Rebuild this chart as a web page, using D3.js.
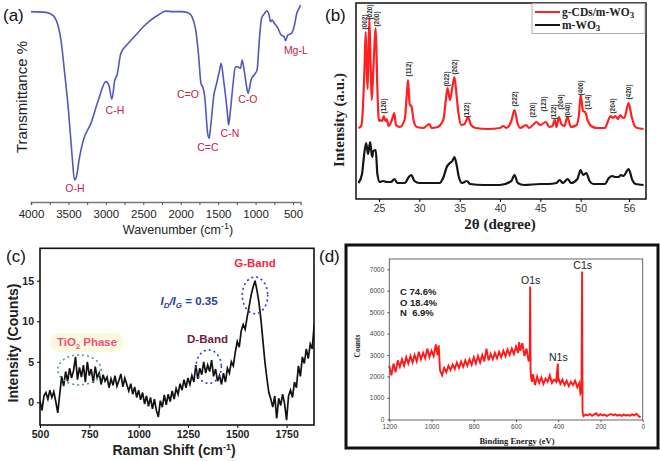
<!DOCTYPE html>
<html><head><meta charset="utf-8">
<script src="https://cdn.jsdelivr.net/npm/d3@7"></script>
<style>body{margin:0;background:#fff} svg{display:block}</style>
</head><body>
<svg id="chart" width="660" height="461"></svg>
<script>
// ---------- Panel (a) FTIR ----------
const ftirWavenumber = [4000,3800,3700,3600,3550,3500,3450,3420,3400,3350,3300,3200,3100,3000,2960,2920,2880,2850,2800,2700,2600,2500,2400,2300,2200,2100,2000,1900,1850,1800,1760,1730,1700,1680,1640,1620,1600,1560,1520,1480,1460,1430,1400,1380,1360,1340,1300,1270,1240,1200,1180,1150,1120,1100,1060,1020,980,950,920,880,850,820,800,780,750,700,660,620,600,570,520,480,450,420,400];
const ftirTransmittance = [99.1,98.7,96.7,83.3,64.8,44.4,18.5,5.6,6.5,18.5,27.8,37.0,50.0,60.2,58.3,50.4,61.1,63.9,75.9,81.5,86.1,90.7,94.4,97.2,99.4,99.1,99.1,98.5,96.3,88.9,74.1,59.3,56.5,51.9,31.5,28.7,35.2,51.9,59.3,66.7,70.4,62.0,51.9,44.4,36.1,42.6,59.3,68.5,68.5,67.6,72.2,65.7,57.4,53.7,61.1,63.9,66.7,83.3,95.4,98.1,99.6,97.2,93.5,94.4,92.6,89.8,86.1,85.2,82.9,86.1,87.0,91.7,98.1,100.9,102.8];
const ftirTickValues = [4000,3500,3000,2500,2000,1500,1000,500];
const ftirBandLabels = ["O-H","C-H","C=O","C=C","C-N","C-O","Mg-L"];
const ftirBandWavenumber = [3413,2879,1904,1637,1343,1103,462];
const ftirBandLevel = [1.1,44.4,53.3,23.9,31.7,50.6,77.8];

// ---------- Panel (b) XRD ----------
const xrdThetaRed = [22.45,22.8,23.0,23.2,23.35,23.5,23.6,23.8,23.95,24.1,24.3,24.6,24.8,25.0,25.1,25.4,25.6,25.8,25.95,26.2,26.6,26.9,27.1,27.6,28.2,28.45,28.6,28.8,29.05,29.3,29.7,30.5,31.25,31.5,32.3,32.6,33.0,33.3,33.5,33.8,34.1,34.35,34.6,34.85,35.2,35.6,36.05,36.4,37.0,38.5,40.0,40.4,40.8,41.4,41.8,42.2,42.5,43.25,43.6,44.2,44.5,45.0,45.7,46.1,46.5,46.8,47.0,47.3,47.6,48.0,48.35,48.8,49.5,49.8,50.0,50.3,50.55,50.9,51.3,52.0,53.0,53.4,53.7,54.0,54.3,54.6,54.9,55.1,55.4,55.95,56.3,56.7,57.0,57.8];
const xrdRed = [71,73,90,130,167,125,110,181,140,99,130,171,110,78,79,78,83,78,80,73,79,86,74,72,80,105,119,95,92,78,72,71,75,71,72,74,80,100,111,99,112,122,105,86,74,75,82,74,71,70,71,73,71,78,89,75,71,74,71,75,77,74,77,72,73,79,72,82,75,73,82,72,74,85,104,88,87,78,73,71,71,78,83,81,83,80,84,82,81,96,83,73,71,70];
const xrdThetaBlack = [22.45,22.9,23.1,23.4,23.65,23.9,24.15,24.3,24.6,24.8,25.1,25.5,26.0,26.5,26.9,27.3,28.2,28.7,29.0,29.4,30.0,32.5,33.0,33.4,33.8,34.1,34.35,34.6,34.9,35.3,35.9,36.3,38.0,40.0,41.4,41.8,42.2,43.0,45.0,46.0,47.0,47.4,47.8,48.4,48.8,49.6,50.0,50.3,50.7,51.1,51.6,53.0,53.5,53.9,54.3,54.7,55.0,55.3,55.95,56.4,56.8,57.8];
const xrdBlack = [16,25,40,56,45,57,42,48,49,25,17,18,17,17,20,16,16,22,24,18,16,16,22,32,36,38,42,35,22,16,18,15,14,14,18,24,16,14,15,15,16,19,16,20,16,20,29,24,26,18,15,15,21,23,22,22,24,23,30,19,15,14];
const xrdTickValues = [25,30,35,40,45,50,56];
const millerText = ["(002)","(020)","(200)","(120)","(112)","(022)","(202)","(122)","(222)","(220)","(123)","(122)","(204)","(040)","(400)","(114)","(204)","(420)"];
const millerTheta = [23.26,23.88,24.71,25.66,28.76,33.39,34.42,35.95,41.86,44.06,45.49,46.73,47.53,48.47,50.01,50.95,53.97,56.03];
const millerLevel = [177,187,180,93,130,120,132,89,100,89,95,87,97,89,111,97,93,107];
const xrdSeriesNames = ["g-CDs/m-WO","m-WO"];

// ---------- Panel (c) Raman ----------
const ramanShift = [500,510,520,530,540,550,560,570,580,590,600,610,620,630,640,650,660,670,680,690,700,710,720,730,740,750,760,770,780,790,800,810,820,830,840,850,860,870,880,890,900,910,920,930,940,950,960,970,980,990,1000,1010,1020,1030,1040,1050,1060,1070,1080,1090,1100,1110,1120,1130,1140,1150,1160,1170,1180,1190,1200,1210,1220,1230,1240,1250,1260,1270,1280,1290,1300,1310,1320,1330,1340,1350,1360,1370,1380,1390,1400,1410,1420,1430,1440,1450,1460,1470,1480,1490,1500,1510,1520,1530,1540,1550,1560,1570,1580,1590,1600,1610,1620,1630,1640,1650,1660,1670,1680,1690,1700,1710,1720,1730,1740,1750,1760,1770,1780,1790,1800,1810,1820,1830,1840,1850,1860,1870,1880,1890];
const ramanIntensity = [0.2,-1.0,0.8,1.2,0.4,1.5,0.6,1.3,0.1,-1.3,1.0,3.2,2.0,3.8,2.6,4.2,3.0,3.9,5.6,2.8,4.3,3.1,4.6,2.5,5.0,3.3,4.1,2.4,4.4,3.0,3.6,2.2,3.4,2.6,3.1,1.8,2.9,2.1,3.3,2.0,2.7,3.5,1.9,3.0,2.2,1.4,2.3,1.0,1.9,0.6,1.5,0.3,1.2,-0.2,0.8,-0.5,0.6,-0.8,0.4,-1.0,-1.8,0.2,-0.6,0.9,-0.3,1.0,0.1,1.4,0.4,1.7,1.0,2.3,1.5,2.8,1.8,3.0,2.2,3.3,2.5,4.6,2.9,4.2,3.4,5.0,3.6,4.6,3.8,5.2,3.2,4.1,2.6,3.3,2.2,3.6,2.5,4.2,3.6,5.0,4.5,6.2,7.5,6.8,8.8,9.6,9.0,10.5,11.8,13.2,14.2,15.0,13.8,12.3,10.2,7.6,5.0,3.0,1.2,0.4,-0.6,0.8,-2.0,0.5,-0.4,1.0,-0.2,-2.2,0.8,1.5,0.6,2.5,1.8,4.5,3.2,5.6,4.8,6.6,5.4,7.2,6.6,9.6];
const ramanXTicks = [500,750,1000,1250,1500,1750];
const ramanYTicks = [0,5,10,15];

// ---------- Panel (d) XPS ----------
const xpsEnergy = [1200,1190,1180,1170,1160,1150,1140,1130,1120,1110,1100,1090,1080,1070,1060,1050,1040,1030,1020,1010,1000,990,980,972,966,960,950,940,930,920,910,900,890,880,870,860,850,840,830,820,810,800,790,780,770,760,750,740,730,720,710,700,690,680,670,660,650,640,630,620,610,600,590,585,580,570,560,550,540,535,533,531,529,525,520,510,500,490,480,470,460,450,440,430,420,410,402,400,398,390,380,370,360,350,340,330,320,310,300,295,290,287,285,283,280,270,260,250,240,230,220,210,200,190,180,170,160,150,140,130,120,110,100,90,80,70,60,50,40,30,20,10,3];
const xpsCounts = [2500,2050,2600,2200,2750,2450,2800,2500,2900,2600,2950,2650,3000,2700,3150,2800,3100,2850,3300,2900,3200,2950,3500,3000,3450,2300,2050,2400,2200,2500,2300,2550,2350,2650,2400,2700,2450,2750,2500,2800,2550,2900,2600,2950,2650,3000,2700,3300,2750,3050,2800,3100,2850,3150,2900,3200,2950,3250,3000,3300,3050,3400,3100,3600,3200,3550,2950,3300,2700,2900,6200,2300,2000,1750,2100,1600,2000,1700,1950,1650,1900,1750,2050,1700,1850,1750,2600,1750,1900,1650,1850,1600,1800,1550,1750,1600,1800,1500,1700,1200,1300,6900,400,250,150,220,180,250,160,230,280,170,240,180,220,150,210,250,190,230,170,210,160,220,180,200,170,230,180,260,150,80];
const xpsXTicks = [1200,1000,800,600,400,200,0];
const xpsYTicks = [0,1000,2000,3000,4000,5000,6000,7000];
const xpsComposition = ["C 74.6%","O 18.4%","N  6.9%"];
const xpsPeakNames = ["O1s","C1s","N1s"];

// ================= drawing =================
const svg = d3.select("#chart");
const SANS = "'Liberation Sans', Arial, sans-serif";
const SERIF = "'Liberation Serif', 'Times New Roman', serif";

function panelLabel(x, y, t) {
  svg.append("text").attr("x", x).attr("y", y).attr("font-family", SANS)
    .attr("font-size", 17).attr("fill", "#111").text(t);
}

// ----- (a) -----
{
  const x = d3.scaleLinear().domain([4000, 400]).range([31, 300.5]);
  const y = d3.scaleLinear().domain([0, 100]).range([190, 10]);
  const g = svg.append("g");
  const axisG = g.append("g").attr("transform", "translate(0,202)")
    .call(d3.axisBottom(x).tickValues(d3.range(4000, 399, -250)).tickSize(3).tickFormat(""));
  axisG.select(".domain").attr("stroke", "#6f7f6c").attr("stroke-width", 1.6);
  axisG.selectAll(".tick line").attr("stroke", "#555");
  const ax2 = g.append("g").attr("transform", "translate(0,202)")
    .call(d3.axisBottom(x).tickValues(ftirTickValues).tickSize(0).tickPadding(8).tickFormat(d3.format("d")));
  ax2.select(".domain").remove();
  ax2.selectAll("text").attr("font-family", SANS).attr("font-size", 11.5).attr("fill", "#222");

  const line = d3.line().x((d, i) => x(ftirWavenumber[i])).y(d => y(d)).curve(d3.curveMonotoneX);
  g.append("path").datum(ftirTransmittance).attr("d", line).attr("fill", "none")
    .attr("stroke", "#5558b8").attr("stroke-width", 1.6);

  g.selectAll(".band").data(ftirBandLabels).enter().append("text")
    .attr("x", (d, i) => x(ftirBandWavenumber[i])).attr("y", (d, i) => y(ftirBandLevel[i]))
    .attr("dy", "0.35em").attr("text-anchor", "middle").attr("font-family", SANS)
    .attr("font-size", 10.5).attr("fill", "#c8204a").text(d => d);

  g.append("text").attr("transform", "translate(27,97) rotate(-90)").attr("text-anchor", "middle")
    .attr("font-family", SANS).attr("font-size", 15).attr("fill", "#222").text("Transmittance %");
  const xl = g.append("text").attr("x", 178).attr("y", 234).attr("text-anchor", "middle")
    .attr("font-family", SANS).attr("font-size", 12.5).attr("fill", "#222");
  xl.append("tspan").text("Wavenumber (cm");
  xl.append("tspan").attr("font-size", 9).attr("dy", -5).text("-1");
  xl.append("tspan").attr("dy", 5).text(")");
  panelLabel(3, 21, "(a)");
}

// ----- (b) -----
{
  const x = d3.scaleLinear().domain([22.15, 58.1]).range([356, 646]);
  const y = d3.scaleLinear().domain([0, 196]).range([199, 3]);
  const g = svg.append("g");
  const ax = g.append("g").attr("transform", "translate(0,199)")
    .call(d3.axisBottom(x).tickValues(xrdTickValues).tickSize(3).tickPadding(3).tickFormat(d3.format("d")));
  ax.select(".domain").remove();
  ax.selectAll("text").attr("font-family", SANS).attr("font-size", 10.5).attr("fill", "#333");

  const lineR = d3.line().x((d, i) => x(xrdThetaRed[i])).y(d => y(d)).curve(d3.curveMonotoneX);
  const lineK = d3.line().x((d, i) => x(xrdThetaBlack[i])).y(d => y(d)).curve(d3.curveMonotoneX);
  g.append("path").datum(xrdBlack).attr("d", lineK).attr("fill", "none").attr("stroke", "#151515").attr("stroke-width", 2.2);
  g.append("path").datum(xrdRed).attr("d", lineR).attr("fill", "none").attr("stroke", "#ff2020").attr("stroke-width", 2.2);

  g.append("rect").attr("x", 356).attr("y", 3).attr("width", 290).attr("height", 196)
    .attr("fill", "none").attr("stroke", "#111").attr("stroke-width", 1.5);

  g.selectAll(".miller").data(millerText).enter().append("text")
    .attr("transform", (d, i) => `translate(${x(millerTheta[i]) + 2},${y(millerLevel[i])}) rotate(-90)`)
    .attr("text-anchor", "middle").attr("font-family", SANS).attr("font-size", 6.5)
    .attr("font-weight", "bold").attr("fill", "#333").text(d => d);

  // legend
  g.append("rect").attr("x", 532).attr("y", 3.5).attr("width", 113).attr("height", 30)
    .attr("fill", "#fff").attr("stroke", "#999").attr("stroke-width", 0.8);
  const legColors = ["#ff2020", "#151515"];
  xrdSeriesNames.forEach((n, i) => {
    const ly = 12 + i * 13;
    g.append("line").attr("x1", 535).attr("x2", 560).attr("y1", ly).attr("y2", ly)
      .attr("stroke", legColors[i]).attr("stroke-width", 2);
    const t = g.append("text").attr("x", 562).attr("y", ly + 4).attr("font-family", SERIF)
      .attr("font-weight", "bold").attr("font-size", 11.5).attr("fill", "#222");
    t.append("tspan").text(n);
    t.append("tspan").attr("font-size", 9).attr("dy", 2).text("3");
  });

  g.append("text").attr("transform", "translate(344,120) rotate(-90)").attr("text-anchor", "middle")
    .attr("font-family", SERIF).attr("font-weight", "bold").attr("font-size", 15).attr("fill", "#222")
    .text("Intensity (a.u.)");
  g.append("text").attr("x", 500).attr("y", 229).attr("text-anchor", "middle")
    .attr("font-family", SERIF).attr("font-weight", "bold").attr("font-size", 15).attr("fill", "#222")
    .text("2θ (degree)");
  panelLabel(325, 21, "(b)");
}

// ----- (c) -----
{
  const x = d3.scaleLinear().domain([500, 1889]).range([40, 314]);
  const y = d3.scaleLinear().domain([-2.8, 19]).range([425, 248.3]);
  const g = svg.append("g");
  svg.append("defs").append("clipPath").attr("id", "clipC").append("rect")
    .attr("x", 40).attr("y", 248.3).attr("width", 274).attr("height", 176.7);

  // TiO2 highlight
  g.append("rect").attr("x", 50).attr("y", 333).attr("width", 74).attr("height", 19).attr("rx", 9)
    .attr("fill", "#f9f8da").attr("opacity", 0.9);

  const line = d3.line().x((d, i) => x(ramanShift[i])).y(d => y(d));
  g.append("path").datum(ramanIntensity).attr("d", line).attr("fill", "none")
    .attr("stroke", "#111").attr("stroke-width", 1.7).attr("clip-path", "url(#clipC)");

  // dotted ellipses
  const ell = (cx, cy, rx, ry, col) => g.append("ellipse").attr("cx", cx).attr("cy", cy)
    .attr("rx", rx).attr("ry", ry).attr("fill", "none").attr("stroke", col).attr("stroke-width", 1.8)
    .attr("stroke-dasharray", "0.5,4.5").attr("stroke-linecap", "round");
  ell(x(1590), y(13.2), 12.7, 18.3, "#3a48b8");
  ell(x(1355), y(4.4), 12.7, 16.7, "#3a48b8");
  ell(x(700), y(4.0), 21.7, 15, "#5fa86a");

  const axB = g.append("g").attr("transform", "translate(0,425)")
    .call(d3.axisBottom(x).tickValues(ramanXTicks).tickSize(3).tickPadding(3).tickFormat(d3.format("d")));
  axB.select(".domain").remove();
  axB.selectAll("text").attr("font-family", SANS).attr("font-weight", "bold").attr("font-size", 10.5).attr("fill", "#222");
  const axL = g.append("g").attr("transform", "translate(40,0)")
    .call(d3.axisLeft(y).tickValues(ramanYTicks).tickSize(3).tickPadding(3).tickFormat(d3.format("d")));
  axL.select(".domain").remove();
  axL.selectAll("text").attr("font-family", SANS).attr("font-weight", "bold").attr("font-size", 10.5).attr("fill", "#222");
  g.append("rect").attr("x", 40).attr("y", 248.3).attr("width", 274).attr("height", 176.7)
    .attr("fill", "none").attr("stroke", "#111").attr("stroke-width", 1.6);

  g.append("text").attr("x", 255).attr("y", 267).attr("text-anchor", "middle").attr("font-family", SANS)
    .attr("font-weight", "bold").attr("font-size", 11.5).attr("fill", "#ff1f44").text("G-Band");
  g.append("text").attr("x", 207.5).attr("y", 343).attr("text-anchor", "middle").attr("font-family", SANS)
    .attr("font-weight", "bold").attr("font-size", 11.5).attr("fill", "#6d1d45").text("D-Band");
  const ti = g.append("text").attr("x", 87).attr("y", 346).attr("text-anchor", "middle").attr("font-family", SANS)
    .attr("font-weight", "bold").attr("font-size", 11.5).attr("fill", "#f0507a");
  ti.append("tspan").text("TiO");
  ti.append("tspan").attr("font-size", 7.5).attr("dy", 3).text("2");
  ti.append("tspan").attr("dy", -3).text(" Phase");
  const idg = g.append("text").attr("x", 189).attr("y", 305).attr("text-anchor", "middle").attr("font-family", SANS)
    .attr("font-weight", "bold").attr("font-size", 11.5).attr("fill", "#2a3c9e");
  idg.append("tspan").attr("font-style", "italic").text("I");
  idg.append("tspan").attr("font-style", "italic").attr("font-size", 8).attr("dy", 3).text("D");
  idg.append("tspan").attr("dy", -3).attr("font-style", "italic").text("/I");
  idg.append("tspan").attr("font-style", "italic").attr("font-size", 8).attr("dy", 3).text("G");
  idg.append("tspan").attr("dy", -3).text(" = 0.35");

  g.append("text").attr("transform", "translate(18,343) rotate(-90)").attr("text-anchor", "middle")
    .attr("font-family", SANS).attr("font-weight", "bold").attr("font-size", 14).attr("fill", "#222")
    .text("Intensity (Counts)");
  const xl = g.append("text").attr("x", 174).attr("y", 455).attr("text-anchor", "middle")
    .attr("font-family", SANS).attr("font-weight", "bold").attr("font-size", 14).attr("fill", "#222");
  xl.append("tspan").text("Raman Shift (cm");
  xl.append("tspan").attr("font-size", 9).attr("dy", -5).text("-1");
  xl.append("tspan").attr("dy", 5).text(")");
  panelLabel(6, 262, "(c)");
}

// ----- (d) -----
{
  const x = d3.scaleLinear().domain([1200, 0]).range([389.3, 642.7]);
  const y = d3.scaleLinear().domain([0, 7500]).range([419.3, 258.6]);
  const g = svg.append("g");
  g.append("rect").attr("x", 346).attr("y", 245).attr("width", 312).attr("height", 203)
    .attr("fill", "#fff").attr("stroke", "#111").attr("stroke-width", 3);

  const line = d3.line().x((d, i) => x(xpsEnergy[i])).y(d => y(d));
  g.append("path").datum(xpsCounts).attr("d", line).attr("fill", "none")
    .attr("stroke", "#ff1a1a").attr("stroke-width", 1.9);

  g.append("rect").attr("x", 389.3).attr("y", 259).attr("width", 253.4).attr("height", 161)
    .attr("fill", "none").attr("stroke", "#555").attr("stroke-width", 0.9);

  const axB = g.append("g").attr("transform", "translate(0,420)")
    .call(d3.axisBottom(x).tickValues(xpsXTicks).tickSize(2).tickPadding(2).tickFormat(d3.format("d")));
  axB.select(".domain").remove();
  axB.selectAll("line").attr("stroke", "#555");
  axB.selectAll("text").attr("font-family", SANS).attr("font-size", 6.5).attr("fill", "#444");
  const axL = g.append("g").attr("transform", "translate(389.3,0)")
    .call(d3.axisLeft(y).tickValues(xpsYTicks).tickSize(2).tickPadding(3).tickFormat(d3.format("d")));
  axL.select(".domain").remove();
  axL.selectAll("line").attr("stroke", "#555");
  axL.selectAll("text").attr("font-family", SANS).attr("font-size", 6.5).attr("fill", "#444");

  xpsComposition.forEach((t, i) => {
    g.append("text").attr("x", 400).attr("y", 295 + i * 10.6).attr("font-family", SANS)
      .attr("font-weight", "bold").attr("font-size", 9.5).attr("fill", "#222").attr("xml:space", "preserve").text(t);
  });
  const peakPos = [[530.5, 6250], [284.2, 6950], [399.5, 2650]];
  const peakDy = [-1.5, -1, -1.5];
  xpsPeakNames.forEach((n, i) => {
    g.append("text").attr("x", x(peakPos[i][0])).attr("y", y(peakPos[i][1]) + peakDy[i])
      .attr("text-anchor", "middle").attr("font-family", SANS).attr("font-size", 10.5)
      .attr("fill", "#222").text(n);
  });
  g.append("text").attr("transform", "translate(360,346) rotate(-90)").attr("text-anchor", "middle")
    .attr("font-family", SERIF).attr("font-weight", "bold").attr("font-size", 7.5).attr("fill", "#222").text("Counts");
  g.append("text").attr("x", 517).attr("y", 444).attr("text-anchor", "middle")
    .attr("font-family", SERIF).attr("font-weight", "bold").attr("font-size", 8.5).attr("fill", "#222")
    .text("Binding Energy (eV)");
  svg.append("text").attr("x", 319).attr("y", 262).attr("font-family", SANS)
    .attr("font-size", 17).attr("fill", "#111").text("(d)");
}
</script>
</body></html>
